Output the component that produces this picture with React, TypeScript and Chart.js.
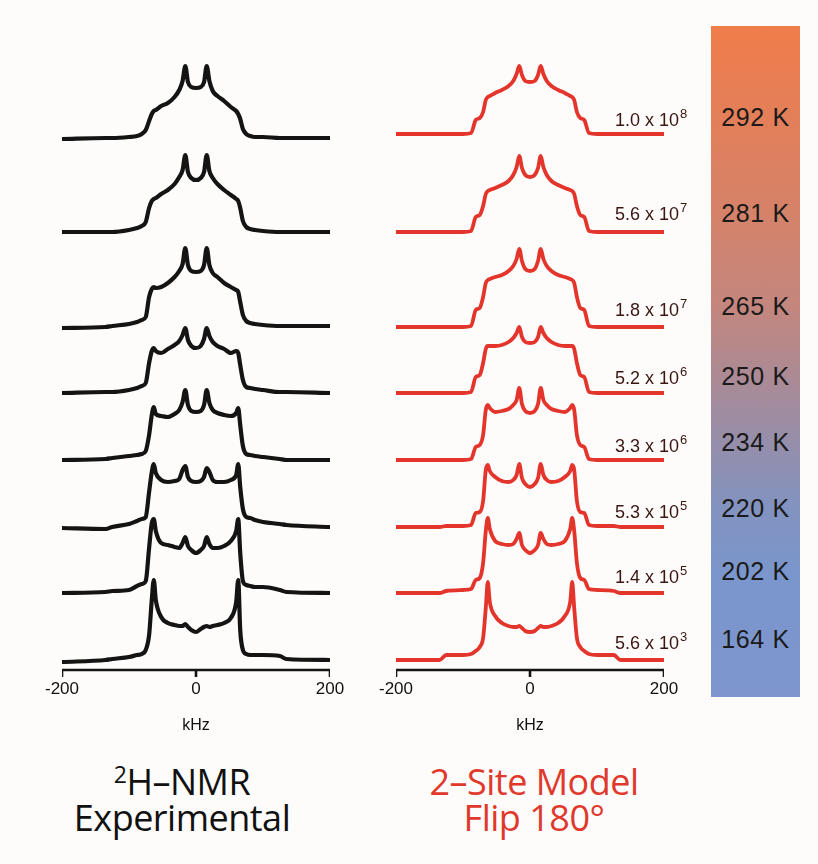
import React, { useEffect, useRef } from "react";
import { Chart, registerables } from "chart.js";

Chart.register(...registerables);

// ---------- DATA ----------
// frequency grid (kHz) shared by every trace
const kHzGrid = [-200, -135, -125, -100, -88, -81, -75, -70, -66, -63, -60, -52, -42, -32, -25, -20, -16, -12, -7, 0, 7, 12, 16, 20, 25, 32, 42, 52, 60, 63, 66, 70, 75, 81, 88, 100, 125, 135, 200];

// experimental 2H-NMR intensities (arbitrary units), top to bottom
const exp292K = [-1, 0, 0, 1, 2, 4, 8, 17, 24, 27, 28, 32, 35, 41, 48, 57, 72, 56, 51, 50, 51, 56, 72, 57, 47, 42, 37, 31, 27, 24, 19, 9, 4, 2, 1, 1, 0, 0, 0];
const exp281K = [0, 0, 0, 2, 4, 6, 10, 24, 31, 33, 34, 38, 42, 48, 55, 62, 77, 60, 54, 52, 54, 60, 77, 61, 54, 48, 42, 37, 33, 31, 24, 11, 5, 3, 2, 1, 0, 0, 0];
const exp265K = [-1, 0, 1, 3, 5, 7, 10, 30, 38, 40, 39, 40, 44, 50, 56, 63, 79, 62, 56, 55, 56, 62, 79, 62, 54, 50, 44, 40, 37, 35, 25, 12, 6, 4, 3, 2, 1, 1, 1];
const exp250K = [0, 1, 1, 3, 5, 7, 10, 30, 42, 45, 42, 40, 44, 48, 52, 58, 65, 53, 47, 45, 47, 54, 65, 57, 51, 47, 44, 40, 42, 40, 28, 13, 6, 5, 4, 3, 1, 1, 0];
const exp234K = [0, 1, 2, 4, 5, 6, 9, 25, 45, 53, 46, 44, 43, 46, 50, 58, 70, 55, 49, 48, 49, 55, 70, 57, 50, 47, 45, 44, 47, 52, 35, 14, 6, 5, 4, 3, 1, 0, 0];
const exp220K = [-1, -2, 0, 3, 6, 8, 10, 35, 55, 63, 54, 47, 45, 46, 48, 57, 61, 50, 46, 45, 46, 50, 59, 55, 47, 45, 45, 47, 52, 63, 40, 18, 10, 9, 7, 5, 3, 2, 0];
const exp202K = [0, 1, 2, 3, 7, 9, 12, 45, 70, 74, 62, 50, 48, 46, 45, 50, 56, 47, 43, 40, 43, 47, 56, 49, 45, 45, 47, 52, 62, 74, 40, 12, 8, 7, 6, 6, 3, 1, 0];
const exp164K = [-2, 0, 1, 3, 5, 6, 10, 25, 60, 80, 60, 43, 37, 35, 34, 34, 36, 33, 30, 28, 31, 33, 34, 33, 34, 35, 37, 42, 58, 80, 30, 10, 6, 5, 5, 5, 4, 1, 0];

// two-site 180° flip model intensities, top to bottom
const sim1e8 = [0, 0, 0, 0, 1, 14, 16, 22, 34, 37, 38, 41, 44, 48, 53, 60, 68, 59, 53, 52, 53, 59, 68, 60, 53, 48, 44, 41, 38, 37, 34, 22, 16, 14, 1, 0, 0, 0, 0];
const sim5p6e7 = [0, 0, 0, 0, 1, 15, 17, 26, 38, 41, 42, 44, 47, 51, 57, 65, 76, 64, 57, 55, 57, 64, 76, 65, 57, 51, 47, 44, 42, 41, 38, 26, 17, 15, 1, 0, 0, 0, 0];
const sim1p8e7 = [0, 0, 0, 0, 1, 17, 19, 30, 44, 47, 48, 50, 52, 56, 61, 68, 78, 66, 58, 56, 58, 66, 78, 68, 61, 56, 52, 50, 48, 47, 44, 30, 19, 17, 1, 0, 0, 0, 0];
const sim5p2e6 = [0, 0, 0, 0, 1, 16, 18, 30, 44, 47, 47, 47, 48, 51, 55, 60, 66, 56, 51, 50, 51, 56, 66, 60, 55, 51, 48, 47, 47, 47, 44, 30, 18, 16, 1, 0, 0, 0, 0];
const sim3p3e6 = [0, 0, 0, 0, 1, 13, 15, 25, 50, 55, 52, 48, 49, 51, 55, 60, 72, 56, 49, 47, 49, 56, 72, 60, 55, 51, 49, 48, 52, 55, 50, 25, 15, 13, 1, 0, 0, 0, 0];
const sim5p3e5 = [0, 0, 1, 1, 2, 14, 15, 26, 57, 62, 56, 50, 46, 45, 47, 52, 63, 49, 43, 40, 43, 49, 63, 52, 47, 45, 46, 50, 56, 62, 57, 26, 15, 14, 2, 1, 1, 0, 0];
const sim1p4e5 = [0, 0, 2, 3, 4, 13, 15, 30, 62, 75, 64, 52, 49, 48, 49, 54, 60, 48, 43, 40, 43, 48, 60, 54, 49, 48, 49, 52, 64, 75, 62, 30, 15, 13, 4, 3, 2, 0, 0];
const sim5p6e3 = [0, 0, 5, 5, 6, 9, 13, 22, 52, 78, 58, 44, 37, 34, 33, 33, 34, 32, 29, 28, 29, 32, 34, 33, 33, 34, 37, 44, 58, 78, 52, 22, 13, 9, 6, 5, 5, 0, 0];

// vertical stacking offsets of the traces (same units as intensities)
const expOffsets = [532, 438, 343, 277, 210, 143, 77, 10];
const simOffsets = [536, 438, 343, 277, 210, 143, 77, 10];

const expTraces = [exp292K, exp281K, exp265K, exp250K, exp234K, exp220K, exp202K, exp164K];
const simTraces = [sim1e8, sim5p6e7, sim1p8e7, sim5p2e6, sim3p3e6, sim5p3e5, sim1p4e5, sim5p6e3];

const temperatures = ["292 K", "281 K", "265 K", "250 K", "234 K", "220 K", "202 K", "164 K"];
const rateMantissas = ["1.0", "5.6", "1.8", "5.2", "3.3", "5.3", "1.4", "5.6"];
const rateExponents = ["8", "7", "7", "6", "6", "5", "5", "3"];

// x axis of both panels
const axisMin = -200;
const axisMax = 200;
const axisStep = 200;
const axisTickValues = [-200, 0, 200];
const axisLevel = 0; // y value at which the axis baseline sits
const tickMarkDepth = 7; // length of tick marks, y units

// ---------- LAYOUT ----------
const tempLabelY = [117, 213, 306, 376, 442, 508, 571, 639];
const rateLabelY = [120, 214, 310, 378, 446, 512, 577, 643];

const AXIS_FONT = "'Liberation Sans', Arial, Helvetica, sans-serif";
const AXIS_COLOR = "#151515";

function axisDatasets() {
  const base = {
    borderColor: AXIS_COLOR,
    borderWidth: 2.6,
    pointRadius: 0,
    fill: false,
    tension: 0,
    borderCapStyle: "butt" as const,
  };
  const line = {
    ...base,
    data: [
      { x: axisMin, y: axisLevel },
      { x: axisMax, y: axisLevel },
    ],
  };
  const ticks = axisTickValues.map((v) => ({
    ...base,
    data: [
      { x: v, y: axisLevel },
      { x: v, y: axisLevel - tickMarkDepth },
    ],
  }));
  return [line, ...ticks];
}

function SpectraPanel(props: { traces: number[][]; offsets: number[]; color: string; lineWidth: number; left: number }) {
  const ref = useRef<HTMLCanvasElement | null>(null);
  useEffect(() => {
    const canvas = ref.current;
    if (!canvas) return;
    const traceSets = props.traces.map((trace, i) => ({
      data: kHzGrid.map((x, j) => ({ x, y: props.offsets[i] + trace[j] })),
      borderColor: props.color,
      borderWidth: props.lineWidth,
      pointRadius: 0,
      fill: false,
      cubicInterpolationMode: "monotone" as const,
      borderJoinStyle: "round" as const,
      borderCapStyle: "round" as const,
    }));
    const chart = new Chart(canvas, {
      type: "line",
      data: { datasets: [...traceSets, ...axisDatasets()] },
      options: {
        animation: false,
        responsive: false,
        devicePixelRatio: 1,
        layout: { padding: { left: 22, right: 22, top: 0, bottom: 0 } },
        plugins: { legend: { display: false }, tooltip: { enabled: false } },
        scales: {
          x: {
            type: "linear",
            min: axisMin,
            max: axisMax,
            afterFit: (s: any) => {
              s.height = 56;
            },
            grid: { display: false, drawOnChartArea: false, drawTicks: false },
            border: { display: false },
            ticks: {
              stepSize: axisStep,
              color: "#111",
              padding: -3,
              maxRotation: 0,
              autoSkip: false,
              font: { family: AXIS_FONT, size: 17 },
              callback: (v: any) => String(v),
            },
            title: {
              display: true,
              text: "kHz",
              color: "#111",
              font: { family: AXIS_FONT, size: 16 },
              padding: { top: 4, bottom: 3 },
            },
          },
          y: { display: false, min: -12, max: 640 },
        },
      },
    });
    return () => chart.destroy();
  }, []);
  return (
    <canvas
      ref={ref}
      width={312}
      height={708}
      style={{ position: "absolute", left: props.left, top: 30, width: 312, height: 708, zIndex: 2 }}
    />
  );
}

export default function App() {
  const titleFont = "'Open Sans', 'Noto Sans', sans-serif";
  return (
    <div
      style={{
        position: "absolute",
        left: 0,
        top: 0,
        width: 818,
        height: 864,
        background: "#fdfcfa",
        overflow: "hidden",
      }}
    >
      {/* colour bar */}
      <div
        style={{
          position: "absolute",
          left: 711,
          top: 26,
          width: 89,
          height: 671,
          background:
            "linear-gradient(to bottom, rgb(240,124,74) 0%, rgb(214,130,104) 27%, rgb(195,134,126) 42%, rgb(172,138,148) 52%, rgb(150,142,170) 62%, rgb(130,147,192) 72%, rgb(122,150,204) 82%, rgb(126,150,205) 100%)",
        }}
      />
      {temperatures.map((t, i) => (
        <div
          key={t}
          style={{
            position: "absolute",
            left: 711,
            width: 89,
            top: tempLabelY[i] - 15,
            height: 30,
            lineHeight: "30px",
            textAlign: "center",
            fontFamily: AXIS_FONT,
            fontSize: 25,
            letterSpacing: 0.6,
            color: "#1a1a1a",
          }}
        >
          {t}
        </div>
      ))}

      {/* rate labels */}
      {rateMantissas.map((m, i) => (
        <div
          key={i}
          style={{
            position: "absolute",
            left: 615,
            top: rateLabelY[i] - 11,
            height: 22,
            lineHeight: "22px",
            whiteSpace: "nowrap",
            fontFamily: AXIS_FONT,
            fontSize: 18,
            color: "#3a1512",
            zIndex: 3,
          }}
        >
          {m} x 10
          <span style={{ fontSize: 13, position: "relative", top: -8, marginLeft: 1, lineHeight: 0 }}>{rateExponents[i]}</span>
        </div>
      ))}

      {/* bottom titles */}
      <div
        style={{
          position: "absolute",
          left: 32,
          width: 300,
          top: 764,
          textAlign: "center",
          fontFamily: titleFont,
          fontSize: 36,
          lineHeight: "36px",
          color: "#111",
          letterSpacing: -0.5,
        }}
      >
        <div>
          <span style={{ fontSize: 23, position: "relative", top: -12, lineHeight: 0 }}>2</span>H–NMR
        </div>
        <div>Experimental</div>
      </div>
      <div
        style={{
          position: "absolute",
          left: 384,
          width: 300,
          top: 764,
          textAlign: "center",
          fontFamily: titleFont,
          fontSize: 36,
          lineHeight: "36px",
          color: "#e0392c",
          letterSpacing: -0.5,
        }}
      >
        <div>2–Site Model</div>
        <div>Flip 180°</div>
      </div>

      <SpectraPanel traces={expTraces} offsets={expOffsets} color="#141414" lineWidth={4.2} left={40} />
      <SpectraPanel traces={simTraces} offsets={simOffsets} color="#e3352b" lineWidth={3.8} left={374} />
    </div>
  );
}
